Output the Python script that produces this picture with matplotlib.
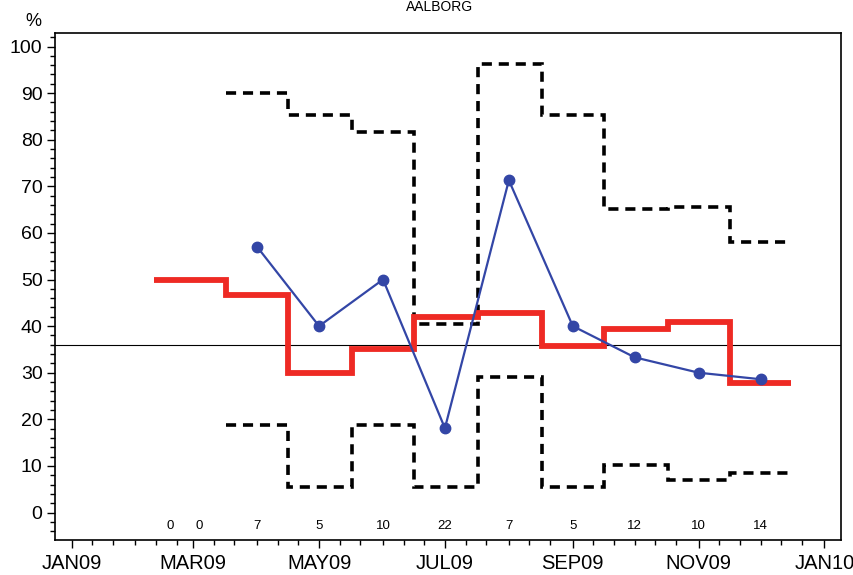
import matplotlib
matplotlib.use("Agg")
import matplotlib.pyplot as plt
import matplotlib.dates as mdates
import numpy as np
import pandas as pd

plt.rcParams["font.family"] = ["Liberation Sans", "DejaVu Sans"]

title = "AALBORG"
y_label = "%"

# red step line (expected level), edges and values
step_edges = ["2009-02-10", "2009-03-17", "2009-04-16", "2009-05-17", "2009-06-16",
              "2009-07-17", "2009-08-17", "2009-09-16", "2009-10-17", "2009-11-16",
              "2009-12-16"]
expected = [50.0, 46.7, 30.0, 35.0, 41.9, 42.9, 35.8, 39.4, 40.9, 27.8]

# dashed bands
band_edges = step_edges[1:]
upper = [90.0, 85.2, 81.6, 40.4, 96.2, 85.2, 65.2, 65.5, 58.0]
lower = [18.7, 5.4, 18.8, 5.4, 29.1, 5.4, 10.1, 6.9, 8.5]

# blue observed line
obs_dates = ["2009-04-01", "2009-05-01", "2009-06-01", "2009-07-01", "2009-08-01",
             "2009-09-01", "2009-10-01", "2009-11-01", "2009-12-01"]
observed = [57.0, 40.0, 50.0, 18.1, 71.3, 40.0, 33.3, 30.0, 28.6]

# counts along the bottom
count_dates = ["2009-02-18", "2009-03-04", "2009-04-01", "2009-05-01", "2009-06-01",
               "2009-07-01", "2009-08-01", "2009-09-01", "2009-10-01", "2009-11-01",
               "2009-12-01"]
counts = [0, 0, 7, 5, 10, 22, 7, 5, 12, 10, 14]

reference = 36.0

x_tick_dates = ["2009-01-01", "2009-03-01", "2009-05-01", "2009-07-01", "2009-09-01",
                "2009-11-01", "2010-01-01"]
x_tick_labels = ["JAN09", "MAR09", "MAY09", "JUL09", "SEP09", "NOV09", "JAN10"]
y_ticks = [0, 10, 20, 30, 40, 50, 60, 70, 80, 90, 100]


def dn(lst):
    return mdates.date2num(pd.to_datetime(lst).to_pydatetime())


fig = plt.figure(figsize=(8.54, 5.75), dpi=100)
ax = fig.add_axes([55 / 854, 1 - 540 / 575, (841 - 55) / 854, (540 - 33) / 575])

red = "#EE2A24"
blue = "#3346A6"

ax.stairs(upper, dn(band_edges), baseline=None, color="black", lw=2.6,
          linestyle=(0, (2.8, 1.9)), zorder=2)
ax.stairs(lower, dn(band_edges), baseline=None, color="black", lw=2.6,
          linestyle=(0, (2.8, 1.9)), zorder=2)
ax.stairs(expected, dn(step_edges), baseline=None, color=red, lw=4.2, zorder=3)
ax.plot(dn(obs_dates), observed, color=blue, lw=1.6, marker="o", ms=7.5, zorder=4)
ax.axhline(reference, color="black", lw=0.8, zorder=1)

for d, c in zip(dn(count_dates), counts):
    ax.text(d, -3.0, str(c), ha="center", va="center", fontsize=9.5)

ax.set_xlim(dn(["2008-12-24"])[0], dn(["2010-01-09"])[0])
ax.set_ylim(-5.9, 102.9)

ax.set_xticks(dn(x_tick_dates))
ax.set_xticklabels(x_tick_labels, fontsize=14.5)
ax.xaxis.set_minor_locator(mdates.DayLocator(bymonthday=[1, 11, 21]))
ax.set_yticks(y_ticks)
ax.set_yticklabels([str(v) for v in y_ticks], fontsize=14)
ax.yaxis.set_minor_locator(matplotlib.ticker.MultipleLocator(2))

ax.tick_params(axis="both", which="major", direction="out", length=6, width=1.0, pad=3)
ax.tick_params(axis="both", which="minor", direction="out", length=3.5, width=1.0)
ax.tick_params(axis="x", which="major", pad=4)
for s in ax.spines.values():
    s.set_linewidth(1.2)

fig.text(33 / 854, 1 - 21 / 575, y_label, ha="center", va="center", fontsize=13)
fig.text(440 / 854, 1.0, title, ha="center", va="top", fontsize=10)

fig.savefig("out.png", dpi=100)
